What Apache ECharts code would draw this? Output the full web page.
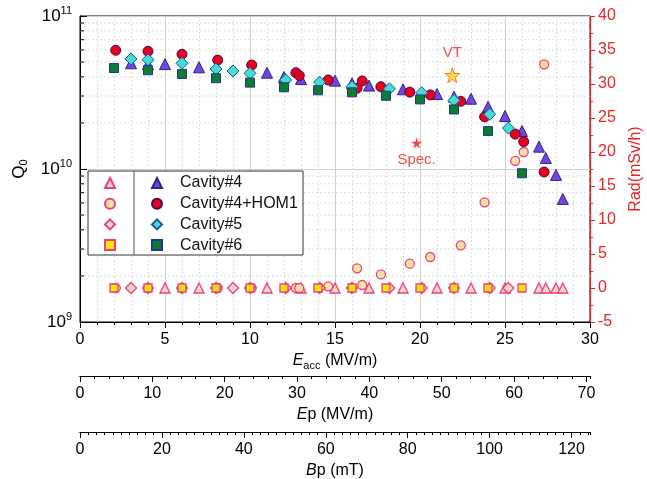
<!DOCTYPE html>
<html><head><meta charset="utf-8">
<script src="https://cdn.jsdelivr.net/npm/echarts@6/dist/echarts.min.js"></script>
<style>html,body{margin:0;padding:0;background:#fff}#c{width:647px;height:479px}</style>
</head><body><div id="c"></div>
<script>
// ---- data ----
const cav4E = [3,4,5,7,11,12,13,15,16,17,19,21,22,23,24,25,26,27,27.4,28,28.4];
const cav4Q = [4.91e10,4.85e10,4.85e10,4.62e10,4.26e10,4.0e10,3.87e10,3.78e10,3.63e10,3.51e10,3.32e10,3.09e10,2.97e10,2.88e10,2.55e10,2.22e10,1.77e10,1.4e10,1.18e10,9.15e9,6.37e9];
const cav4RadE = [5,7,11,13,15,17,19,21,23,25,27,27.4,28,28.4];
const cav4Rad = [0,0,0,0,0,0,0,0,0,0,0,0,0,0];

const homE = [2.1,4,6,8.1,10.1,12.7,12.9,14.6,16.3,16.6,17.7,19.4,20.6,22.4,23.8,25.6,26.1,27.3];
const homQ = [5.97e10,5.88e10,5.62e10,5.15e10,4.78e10,4.26e10,4.08e10,3.82e10,3.37e10,3.76e10,3.45e10,3.18e10,3.05e10,2.77e10,2.19e10,1.69e10,1.51e10,9.55e9];
const homRad = [0,0,0,0,0,0,0,0.25,2.9,0.44,2.0,3.57,4.56,6.27,12.6,18.7,20.0,32.9];

const cav5E = [3,4,6,8,9,10,12.1,14.1,16,18.2,20.1,22,24.1,25.2];
const cav5Q = [5.24e10,5.18e10,4.91e10,4.5e10,4.37e10,4.22e10,3.82e10,3.69e10,3.45e10,3.34e10,3.15e10,2.81e10,2.28e10,1.85e10];
const cav5Rad = [0,0,0,0,0,0,0,0,0,0,0,0,0,0];

const cav6E = [2,4,6,8,10,12,14,16,18,20,22,24,26];
const cav6Q = [4.57e10,4.42e10,4.18e10,3.92e10,3.67e10,3.42e10,3.27e10,3.17e10,3.01e10,2.85e10,2.45e10,1.77e10,9.38e9];
const cav6Rad = [0,0,0,0,0,0,0,0,0,0,0,0,0];

const vtPoint = [21.9, 4.1e10];
const specPoint = [19.8, 1.48e10];

const logMinorTicks = [2e9,3e9,4e9,5e9,6e9,7e9,8e9,9e9,2e10,3e10,4e10,5e10,6e10,7e10,8e10,9e10];
const legendNames = ['Cavity#4','Cavity#4+HOM1','Cavity#5','Cavity#6'];
const radNames = ['r4','rH','r5','r6'];

// ---- styles ----
const FONT = '"Liberation Sans", Arial, sans-serif';
const RED = '#ee2222';
const pinkEdge = '#f03c82';
const star = 'path://M50,0 L61,35 L98,35 L68,57 L79,91 L50,70 L21,91 L32,57 L2,35 L39,35 Z';
const zip = (a, b) => a.map((v, i) => [v, b[i]]);

function qSeries(name, e, q, symbol, size, fill, edge) {
  return { name, type: 'scatter', xAxisIndex: 0, yAxisIndex: 0, data: zip(e, q),
    symbol, symbolSize: size, z: 4,
    itemStyle: { color: fill, borderColor: edge, borderWidth: 1, opacity: 1 } };
}
function rSeries(name, e, r, symbol, size, fill) {
  return { name, type: 'scatter', xAxisIndex: 0, yAxisIndex: 1, data: zip(e, r),
    symbol, symbolSize: size, z: 3,
    itemStyle: { color: fill, borderColor: pinkEdge, borderWidth: 1.3, opacity: 1 } };
}

const sub = { fontSize: 11, lineHeight: 11, verticalAlign: 'bottom', fontFamily: FONT, color: '#000' };
const sup = { fontSize: 11, lineHeight: 11, verticalAlign: 'top', fontFamily: FONT, color: '#000' };
const main = { fontSize: 16, lineHeight: 22, fontFamily: FONT, color: '#000' };
const ital = { fontSize: 16, lineHeight: 22, fontFamily: FONT, color: '#000', fontStyle: 'italic' };
const LBL = { show: true, color: '#000', fontSize: 16, fontFamily: FONT, margin: 10 };

function bottomAxis(opts) {
  return Object.assign({
    type: 'value', position: 'bottom', gridIndex: 0,
    axisLine: { show: true, onZero: false, lineStyle: { color: '#000', width: 1 } },
    axisTick: { show: true, length: 6, lineStyle: { color: '#000' } },
    axisLabel: LBL,
    splitLine: { show: false }, nameLocation: 'middle'
  }, opts);
}

const option = {
  animation: false,
  backgroundColor: '#fff',
  grid: { left: 80, right: 57, top: 16, bottom: 157, containLabel: false, outerBoundsMode: 'none',
    show: true, borderColor: '#000', borderWidth: 1, backgroundColor: 'transparent' },
  xAxis: [
    bottomAxis({ min: 0, max: 30, interval: 5,
      minorTick: { show: true, splitNumber: 5, length: 3, lineStyle: { color: '#000' } },
      splitLine: { show: true, lineStyle: { color: '#cfcfcf', width: 1 } },
      minorSplitLine: { show: true, lineStyle: { color: '#dcdcdc', type: [2, 2], width: 1 } },
      name: '{i|E}{s|acc}{m| (MV/m)}', nameGap: 25,
      nameTextStyle: { rich: { i: ital, s: sub, m: main } } }),
    // Ep: minor ticks axis
    bottomAxis({ offset: 54, min: 0, max: 70.5, interval: 2, axisLabel: { show: false },
      axisTick: { show: true, length: 3, lineStyle: { color: '#000' } } }),
    // Ep: major ticks + labels
    bottomAxis({ offset: 54, min: 0, max: 70.5, interval: 10,
      axisLabel: Object.assign({}, LBL, { showMaxLabel: false }),
      name: '{i|E}{m|p (MV/m)}', nameGap: 28,
      nameTextStyle: { rich: { i: ital, m: main } } }),
    // Bp: minor ticks axis
    bottomAxis({ offset: 110, min: 0, max: 124.5, interval: 2, axisLabel: { show: false },
      axisTick: { show: true, length: 3, lineStyle: { color: '#000' } } }),
    // Bp: major ticks + labels
    bottomAxis({ offset: 110, min: 0, max: 124.5, interval: 20,
      axisLabel: Object.assign({}, LBL, { showMaxLabel: false }),
      name: '{i|B}{m|p (mT)}', nameGap: 25,
      nameTextStyle: { rich: { i: ital, m: main } } })
  ],
  yAxis: [
    { type: 'log', logBase: 10, min: 1e9, max: 1e11, position: 'left',
      axisLine: { show: true, onZero: false, lineStyle: { color: '#000' } },
      axisTick: { show: true, inside: true, length: 7, lineStyle: { color: '#000' } },
      axisLabel: { color: '#000', margin: 8,
        formatter: v => '{b|10}{s|' + Math.round(Math.log10(v)) + '}',
        rich: { b: { fontSize: 17, lineHeight: 22, fontFamily: FONT, color: '#000' }, s: sup } },
      splitLine: { show: true, lineStyle: { color: '#cfcfcf' } },
      name: '{q|Q}{s|0}', nameLocation: 'middle', nameGap: 48, nameRotate: 90,
      nameTextStyle: { rich: { q: { fontSize: 17, lineHeight: 22, fontFamily: FONT, color: '#000' }, s: sub } } },
    { type: 'value', min: -5, max: 40, interval: 5, position: 'right',
      axisLine: { show: true, onZero: false, lineStyle: { color: RED, width: 1.2 } },
      axisTick: { show: true, length: 5, lineStyle: { color: RED } },
      minorTick: { show: true, splitNumber: 2, length: 3, lineStyle: { color: RED } },
      axisLabel: { color: RED, fontSize: 16, fontFamily: FONT, margin: 8 },
      splitLine: { show: false },
      name: 'Rad(mSv/h)', nameLocation: 'middle', nameGap: 38, nameRotate: 90,
      nameTextStyle: { color: RED, fontSize: 16, fontFamily: FONT } }
  ],
  legend: [
    { data: radNames, orient: 'vertical', left: 99, top: 170, itemWidth: 10, itemHeight: 10, itemGap: 4.7,
      formatter: () => ' ', textStyle: { fontSize: 16, lineHeight: 16, fontFamily: FONT }, selectedMode: false, z: 6 },
    { data: legendNames, orient: 'vertical', left: 146, top: 170, itemWidth: 10, itemHeight: 10, itemGap: 4.7,
      textStyle: { fontSize: 16, lineHeight: 16, fontFamily: FONT, color: '#111', padding: [0, 0, 0, 13] }, selectedMode: false, z: 6 }
  ],
  graphic: [
    { type: 'rect', shape: { x: 88, y: 171, width: 215, height: 84 }, style: { fill: '#fff', stroke: '#333', lineWidth: 1 }, z: 5 },
    { type: 'line', shape: { x1: 134, y1: 171, x2: 134, y2: 255 }, style: { stroke: '#555', lineWidth: 1 }, z: 5 }
  ],
  series: [
    { name: 'logMinor', type: 'custom', xAxisIndex: 0, yAxisIndex: 0, silent: true, z: 1,
      data: logMinorTicks.map(v => [0, v]),
      renderItem: (params, api) => {
        const p = api.coord([0, api.value(1)]);
        const p2 = api.coord([30, api.value(1)]);
        return { type: 'group', children: [
          { type: 'line', shape: { x1: p[0], y1: p[1], x2: p2[0], y2: p2[1] }, style: { stroke: '#dcdcdc', lineDash: [2, 2], lineWidth: 1 } },
          { type: 'line', shape: { x1: p[0], y1: p[1], x2: p[0] + 4, y2: p[1] }, style: { stroke: '#000', lineWidth: 1 } }
        ] };
      } },
    rSeries('r4', cav4RadE, cav4Rad, 'triangle', 10, '#fdd9c4'),
    rSeries('rH', homE, homRad, 'circle', 9, '#fde3a6'),
    rSeries('r5', cav5E, cav5Rad, 'diamond', 11, '#fdd9c4'),
    rSeries('r6', cav6E, cav6Rad, 'rect', 8, '#ffe600'),
    qSeries('Cavity#4', cav4E, cav4Q, 'triangle', 11, '#7444e2', '#2c2a86'),
    qSeries('Cavity#4+HOM1', homE, homQ, 'circle', 10, '#e6001c', '#4a0a55'),
    qSeries('Cavity#5', cav5E, cav5Q, 'diamond', 12, '#3fe0d2', '#2152a4'),
    qSeries('Cavity#6', cav6E, cav6Q, 'rect', 9, '#0b7d30', '#24358c'),
    { name: 'VT', type: 'scatter', xAxisIndex: 0, yAxisIndex: 0, data: [vtPoint], symbol: star, symbolSize: 15, z: 5,
      itemStyle: { color: '#ffd51e', borderColor: '#ff5a10', borderWidth: 1 },
      label: { show: true, formatter: 'VT', position: 'top', distance: 7, color: RED, fontSize: 15, fontFamily: FONT } },
    { name: 'Spec.', type: 'scatter', xAxisIndex: 0, yAxisIndex: 0, data: [specPoint], symbol: star, symbolSize: 11, z: 5,
      itemStyle: { color: '#e8161c' },
      label: { show: true, formatter: 'Spec.', position: 'bottom', distance: 4, color: RED, fontSize: 15, fontFamily: FONT } }
  ]
};
echarts.init(document.getElementById('c'), null, { renderer: 'canvas' }).setOption(option);
</script></body></html>
